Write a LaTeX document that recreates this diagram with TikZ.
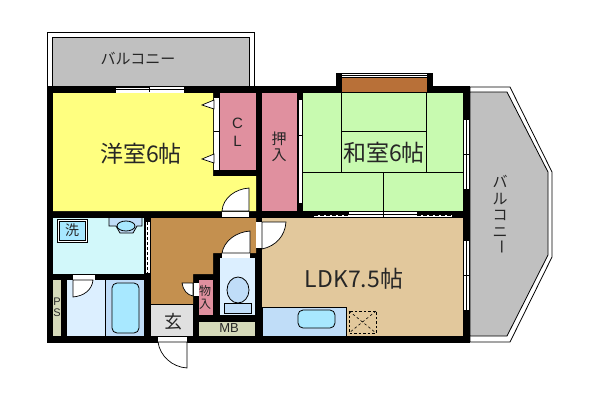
\documentclass[tikz,border=0pt]{standalone}
\usepackage{fontspec}
\setmainfont{Liberation Sans}
\newfontfamily\jp{Noto Sans CJK JP}
\definecolor{cyellow}{HTML}{FFFF80}
\definecolor{cpink}{HTML}{E0909F}
\definecolor{cgreen}{HTML}{C8FAB0}
\definecolor{cbrown}{HTML}{C4904F}
\definecolor{calc}{HTML}{B87038}
\definecolor{cldk}{HTML}{E2C89C}
\definecolor{cgrey}{HTML}{C0C0C0}
\definecolor{ccyan}{HTML}{D2F8FA}
\definecolor{cdress}{HTML}{DCEFFF}
\definecolor{cbath}{HTML}{C0DDF8}
\definecolor{ctub}{HTML}{A8E8FF}
\definecolor{cps}{HTML}{D6DABA}
\definecolor{cgen}{HTML}{E0E0E0}
\tikzset{
  thin line/.style={draw=black,line width=0.8pt},
  winpane/.style={fill=white,draw=black,line width=0.5pt},
  doorleaf/.style={fill=white,draw=black,line width=0.7pt},
  label/.style={inner sep=0pt,text=black!85},
  big/.style={label,font=\jp\fontsize{23}{23}\selectfont},
  mid/.style={label,font=\jp\fontsize{15}{16.5}\selectfont},
  small/.style={label,font=\jp\fontsize{12}{13}\selectfont},
  latin/.style={label,font=\fontsize{13}{15}\selectfont},
}
\begin{document}
\begin{tikzpicture}[x=1pt,y=-1pt]
\useasboundingbox (0,0) rectangle (600,402);
% balconies
\filldraw[fill=white,thin line] (47.5,88) -- (47.5,32) -- (254,32) -- (254,88);
\filldraw[fill=cgrey,thin line] (52,88) -- (52,37) -- (249,37) -- (249,88);
\filldraw[fill=white,thin line] (470,87) -- (510,87) -- (552,172) -- (552,257) -- (510,342) -- (470,342) -- cycle;
\filldraw[fill=cgrey,thin line] (470,92) -- (507,92) -- (548,172) -- (548,255) -- (507,336) -- (470,336) -- cycle;
% walls
\fill[black] (47,86) rectangle (470,342.5);
\fill[black] (336,73) rectangle (433,93);
% rooms
\fill[cyellow] (53,93) -- (213,93) -- (213,176) -- (256,176) -- (256,211) -- (53,211) -- cycle;
\fill[cpink] (220,93) rectangle (255.5,170);
\fill[cpink] (262,93) rectangle (297,211);
\fill[cgreen] (303,93) rectangle (463,211);
\fill[calc] (342,78) rectangle (427,92);
\fill[cldk] (262,218) rectangle (463,336);
\fill[ccyan] (53,218) rectangle (144,274);
\fill[cbrown] (151,218) -- (256,218) -- (256,253) -- (213,253) -- (213,274) -- (193,274) -- (193,304) -- (151,304) -- cycle;
\fill[cgen] (151,304) rectangle (193,336);
\draw[thin line] (151,304) -- (193,304);
\fill[cdress] (220,258) rectangle (255,315);
\fill[cps] (199,322) rectangle (255,336);
\fill[cpink] (199,280) rectangle (213,315);
\fill[cps] (53,280) rectangle (61,336);
\fill[cdress] (67,280) rectangle (105,336);
\fill[cbath] (105,280) rectangle (144,336);
\draw[thin line] (105,280) -- (105,336);
% tatami
\draw[thin line] (341,93) -- (341,172) (426,93) -- (426,172) (303,172) -- (463,172) (341,131) -- (426,131) (383,172) -- (383,211) (342,92.5) -- (427,92.5);
% windows
\fill[white] (116,87) rectangle (184,92.5);
\draw[line width=0.6pt] (116,89.5) -- (184,89.5) (149,87) -- (149,92) (116,87) -- (149,87);
\fill[white] (342,73.5) rectangle (427,77);
\draw[line width=0.6pt] (342,75) -- (386,75) (384,75) -- (427,75);
\fill[white] (464,120) rectangle (469,189);
\draw[line width=0.6pt] (466.5,120) -- (466.5,189) (464,154) -- (469,154);
\fill[white] (464,241) rectangle (469,310);
\draw[line width=0.6pt] (466.5,241) -- (466.5,310) (464,275) -- (469,275);
\fill[white] (349,212) rectangle (417,214.5);
\fill[white] (314,214.5) rectangle (452,217);
\draw[line width=0.6pt,dash pattern=on 4pt off 2pt] (314,215.5) -- (349,215.5) (417,215.5) -- (452,215.5);
\draw[line width=0.6pt] (349,214.5) -- (417,214.5) (383,211) -- (383,217);
% closet sliding doors
\fill[white] (214,98) rectangle (219,170);
\draw[line width=0.6pt] (214,131) -- (219,131);
\fill[white] (298.5,100) rectangle (302,203);
\draw[line width=0.6pt] (298,135) -- (303,135) (302,168) -- (302,173);
\filldraw[doorleaf] (214,100) -- (202,105) -- (214,109) -- cycle;
\filldraw[doorleaf] (214,154) -- (202,159) -- (214,163) -- cycle;
% doors
\fill[white] (222,211.5) rectangle (249,217);
\filldraw[doorleaf] (249,211) -- (249,188) .. controls (235,189) and (223,198) .. (222,211) -- cycle;
\fill[white] (73,274.5) rectangle (95,280);
\filldraw[doorleaf] (73,280) -- (73,297) .. controls (84,296) and (92,290) .. (93,280) -- cycle;
\fill[white] (222,253) rectangle (250,258);
\filldraw[doorleaf] (250,253) -- (250,231) .. controls (236,232) and (224,241) .. (222,253) -- cycle;
\fill[white] (256,222) rectangle (261.5,248);
\filldraw[doorleaf] (262,222) -- (286,222) .. controls (285,236) and (276,246) .. (262,249) -- cycle;
\fill[white] (193.5,283) rectangle (198.5,296);
\filldraw[doorleaf] (193,283) -- (182,283) .. controls (183,290) and (187,295) .. (193,296) -- cycle;
\fill[white] (158,336.5) rectangle (187,342);
\filldraw[doorleaf] (187,342) -- (187,368) .. controls (172,367) and (160,356) .. (158,342) -- cycle;
\fill[white] (145.5,222) rectangle (150,273);
\draw[line width=0.6pt,dash pattern=on 3pt off 2pt] (147.5,222) -- (147.5,273);
% fixtures
\filldraw[fill=ctub,thin line,rounded corners=5pt] (112,283) rectangle (139,333);
\filldraw[fill=white,thin line] (57,219) rectangle (87,242);
\filldraw[fill=ctub,thin line] (59,221) rectangle (85,240);
\filldraw[fill=cbath,thin line] (109,218) -- (109,226) -- (116,226) -- (120,233) -- (133,233) -- (137,226) -- (142,226) -- (142,218);
\filldraw[fill=ctub,thin line] (126,226) ellipse (9 and 5);
\filldraw[fill=cbath,thin line] (238,290) ellipse (11 and 13);
\filldraw[fill=cbath,thin line] (224,303) rectangle (251,313);
\filldraw[fill=cbath,thin line] (262,307) rectangle (346,336);
\filldraw[fill=ctub,thin line,rounded corners=5pt] (298,310) rectangle (335,328);
\draw[line width=0.7pt,dash pattern=on 2.5pt off 2pt] (349,311) rectangle (376,333);
\draw[line width=0.6pt,dash pattern=on 2.5pt off 2.5pt] (349,311) -- (376,333) (376,311) -- (349,333);
% labels
\node[mid] (balc1) at (138,59) {バルコニー};
\node[big] (yoshitsu) at (141,154) {洋室6帖};
\node[big] (washitsu) at (384,153) {和室6帖};
\node[big] (ldk) at (354,279) {LDK7.5帖};
\node[latin,align=center,font=\fontsize{15}{17.5}\selectfont] (cl) at (237.5,132.5) {C\\L};
\node[mid,align=center] (oshiire) at (279,147) {押\\入};
\node[small,align=center] (monoire) at (205,297) {物\\入};
\node[label,font=\jp\fontsize{18}{18}\selectfont] (genkan) at (173,322) {玄};
\node[latin] (mb) at (229,328) {MB};
\node[latin,align=center,font=\fontsize{11}{11.5}\selectfont] (ps) at (57,307.5) {P\\S};
\node[mid,font=\jp\fontsize{14}{14}\selectfont] (wash) at (72,230.5) {洗};
\node[mid,align=center] (balc2a) at (500,206.5) {バ\\ル\\コ\\ニ};
\node[mid,rotate=-90] (balc2b) at (500,247) {ー};
\end{tikzpicture}
\end{document}
